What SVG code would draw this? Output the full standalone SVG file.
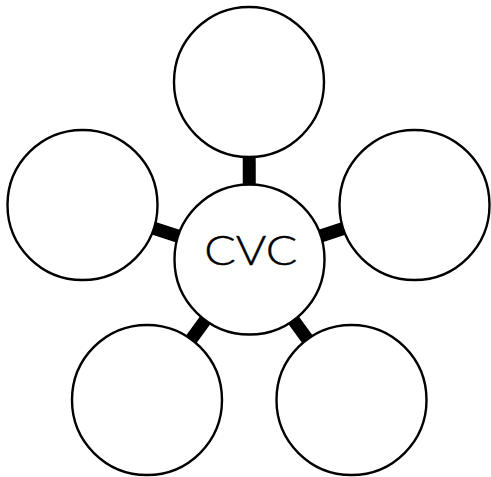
<svg xmlns="http://www.w3.org/2000/svg" width="491" height="477" viewBox="0 0 491 477">
<style>
.node{fill:#fff;stroke:#000;stroke-width:2.4}
.conn{stroke:#000;stroke-width:13;stroke-linecap:butt}
.lbl{font-family:"Lato","Liberation Sans",sans-serif;font-weight:300;font-size:42px;fill:#000;stroke:#000;stroke-width:0.4}
</style>
<rect width="491" height="477" fill="#fff"/>
<g id="connectors">
<line class="conn" x1="249.5" y1="259.5" x2="249" y2="82"/>
<line class="conn" x1="249.5" y1="259.5" x2="82.5" y2="205"/>
<line class="conn" x1="249.5" y1="259.5" x2="414.5" y2="205"/>
<line class="conn" x1="249.5" y1="259.5" x2="147" y2="400"/>
<line class="conn" x1="249.5" y1="259.5" x2="351.5" y2="400"/>
</g>
<g id="top"><circle class="node" cx="249" cy="82" r="75"/></g>
<g id="left"><circle class="node" cx="82.5" cy="205" r="75"/></g>
<g id="right"><circle class="node" cx="414.5" cy="205" r="75"/></g>
<g id="bottom-left"><circle class="node" cx="147" cy="400" r="75"/></g>
<g id="bottom-right"><circle class="node" cx="351.5" cy="400" r="75"/></g>
<g id="center"><circle class="node" cx="249.5" cy="259.5" r="75"/>
<text class="lbl" x="250.8" y="264.5" text-anchor="middle" textLength="93" lengthAdjust="spacingAndGlyphs">CVC</text></g>
</svg>
